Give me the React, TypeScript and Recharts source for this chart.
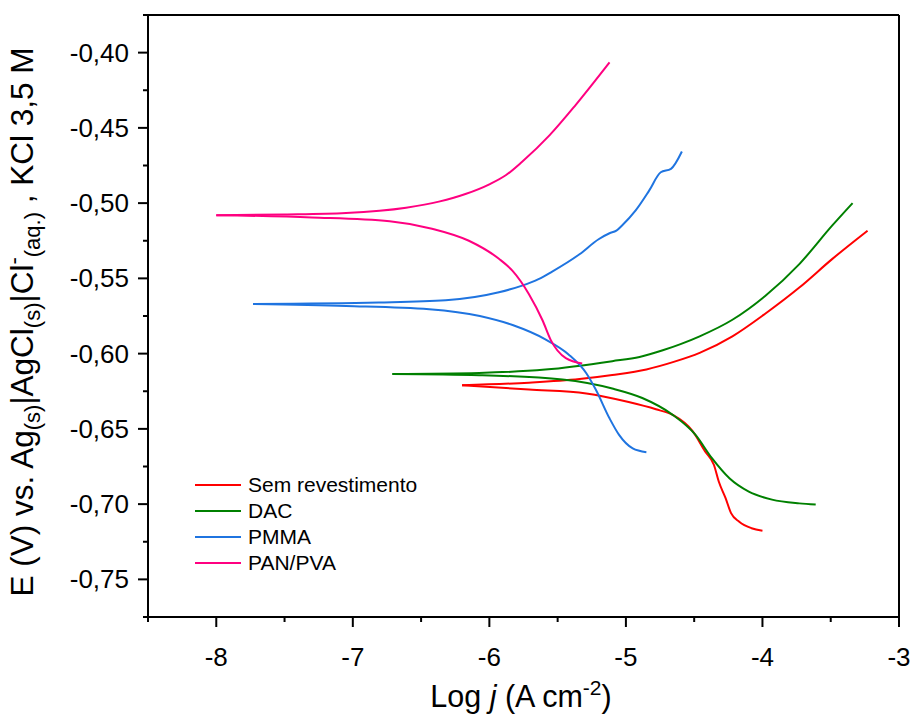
import React from 'react';
import { LineChart, Line, XAxis, YAxis, ReferenceLine, Legend, Label } from 'recharts';

const FONT = '"Liberation Sans", Arial, Helvetica, sans-serif';

const RED = '#ff0000';
const GREEN = '#008000';
const BLUE = '#1f74e0';
const PINK = '#ff0080';

const seriesNames = ['Sem revestimento', 'DAC', 'PMMA', 'PAN/PVA'];
const seriesColors = [RED, GREEN, BLUE, PINK];

const xMajorTicks = [-8, -7, -6, -5, -4, -3];
const xAllTicks = [-8.5, -8, -7.5, -7, -6.5, -6, -5.5, -5, -4.5, -4, -3.5, -3];
const yMajorTicks = [-0.75, -0.7, -0.65, -0.6, -0.55, -0.5, -0.45, -0.4];
const yAllTicks = [
  -0.775, -0.75, -0.725, -0.7, -0.675, -0.65, -0.625, -0.6, -0.575, -0.55,
  -0.525, -0.5, -0.475, -0.45, -0.425, -0.4, -0.375,
];

// Sem revestimento (red)
const semAnodic = [
  { x: -6.2, y: -0.621 }, { x: -5.71, y: -0.6193 }, { x: -5.34, y: -0.6169 },
  { x: -5.1, y: -0.6142 }, { x: -4.85, y: -0.6105 }, { x: -4.65, y: -0.6055 },
  { x: -4.46, y: -0.5995 }, { x: -4.22, y: -0.5885 }, { x: -3.98, y: -0.5735 },
  { x: -3.73, y: -0.5561 }, { x: -3.49, y: -0.5372 }, { x: -3.23, y: -0.5183 },
];
const semCathodic = [
  { x: -6.2, y: -0.621 }, { x: -5.71, y: -0.6239 }, { x: -5.29, y: -0.6265 },
  { x: -4.98, y: -0.6322 }, { x: -4.78, y: -0.637 }, { x: -4.66, y: -0.6406 },
  { x: -4.51, y: -0.6517 }, { x: -4.42, y: -0.665 }, { x: -4.355, y: -0.674 },
  { x: -4.32, y: -0.685 }, { x: -4.27, y: -0.696 }, { x: -4.23, y: -0.706 },
  { x: -4.17, y: -0.7117 }, { x: -4.08, y: -0.716 }, { x: -4.0, y: -0.7177 },
];

// DAC (green)
const dacAnodic = [
  { x: -6.71, y: -0.6135 }, { x: -6.075, y: -0.6128 }, { x: -5.59, y: -0.6106 },
  { x: -5.1, y: -0.605 }, { x: -4.9, y: -0.6022 }, { x: -4.73, y: -0.5978 },
  { x: -4.6, y: -0.5937 }, { x: -4.46, y: -0.5885 }, { x: -4.22, y: -0.5775 },
  { x: -3.98, y: -0.5617 }, { x: -3.73, y: -0.5405 }, { x: -3.49, y: -0.515 },
  { x: -3.34, y: -0.5 },
];
const dacCathodic = [
  { x: -6.71, y: -0.6135 }, { x: -6.075, y: -0.6143 }, { x: -5.465, y: -0.6172 },
  { x: -5.1, y: -0.6232 }, { x: -4.88, y: -0.6295 }, { x: -4.66, y: -0.6405 },
  { x: -4.49, y: -0.654 }, { x: -4.37, y: -0.6695 }, { x: -4.24, y: -0.683 },
  { x: -4.1, y: -0.6917 }, { x: -3.93, y: -0.697 }, { x: -3.73, y: -0.6995 },
  { x: -3.61, y: -0.7003 },
];

// PMMA (blue)
const pmmaAnodic = [
  { x: -7.73, y: -0.567 }, { x: -6.81, y: -0.566 }, { x: -6.32, y: -0.5645 },
  { x: -5.93, y: -0.5592 }, { x: -5.76, y: -0.5548 }, { x: -5.64, y: -0.5505 },
  { x: -5.54, y: -0.5455 }, { x: -5.34, y: -0.534 }, { x: -5.2, y: -0.524 },
  { x: -5.12, y: -0.52 }, { x: -5.07, y: -0.5183 }, { x: -5.03, y: -0.515 },
  { x: -4.93, y: -0.505 }, { x: -4.83, y: -0.4917 }, { x: -4.745, y: -0.4795 },
  { x: -4.67, y: -0.4772 }, { x: -4.59, y: -0.4657 },
];
const pmmaCathodic = [
  { x: -7.73, y: -0.567 }, { x: -7.05, y: -0.5683 }, { x: -6.44, y: -0.5705 },
  { x: -6.07, y: -0.575 }, { x: -5.83, y: -0.581 }, { x: -5.59, y: -0.5905 },
  { x: -5.42, y: -0.6005 }, { x: -5.29, y: -0.613 }, { x: -5.22, y: -0.624 },
  { x: -5.12, y: -0.643 }, { x: -5.05, y: -0.654 }, { x: -4.95, y: -0.663 },
  { x: -4.85, y: -0.6655 },
];

// PAN/PVA (pink)
const panAnodic = [
  { x: -8.0, y: -0.508 }, { x: -7.5, y: -0.5075 }, { x: -7.05, y: -0.5065 },
  { x: -6.61, y: -0.503 }, { x: -6.37, y: -0.499 }, { x: -6.17, y: -0.4938 },
  { x: -6.0, y: -0.4875 }, { x: -5.88, y: -0.4815 }, { x: -5.76, y: -0.4725 },
  { x: -5.56, y: -0.455 }, { x: -5.37, y: -0.435 }, { x: -5.12, y: -0.4065 },
];
const panCathodic = [
  { x: -8.0, y: -0.508 }, { x: -7.3, y: -0.5095 }, { x: -6.73, y: -0.512 },
  { x: -6.42, y: -0.517 }, { x: -6.15, y: -0.525 }, { x: -5.93, y: -0.537 },
  { x: -5.83, y: -0.545 }, { x: -5.71, y: -0.5605 }, { x: -5.61, y: -0.578 },
  { x: -5.55, y: -0.591 }, { x: -5.44, y: -0.603 }, { x: -5.32, y: -0.6065 },
];

const branches = [
  { data: semAnodic, color: RED }, { data: semCathodic, color: RED },
  { data: dacAnodic, color: GREEN }, { data: dacCathodic, color: GREEN },
  { data: pmmaAnodic, color: BLUE }, { data: pmmaCathodic, color: BLUE },
  { data: panAnodic, color: PINK }, { data: panCathodic, color: PINK },
];

const isIn = (arr: number[], v: number) => arr.some((t) => Math.abs(t - v) < 1e-6);

const XTick = (props: any) => {
  const { x, y, payload } = props;
  const v = payload.value;
  const major = isIn(xMajorTicks, v);
  return (
    <g>
      <line x1={x} x2={x} y1={y} y2={y + (major ? 10 : 5)} stroke="#000" strokeWidth={2} />
      {major && (
        <text x={x} y={y + 49} textAnchor="middle" fontSize={26} fontFamily={FONT} fill="#000">
          {String(v)}
        </text>
      )}
    </g>
  );
};

const YTick = (props: any) => {
  const { x, y, payload } = props;
  const v = payload.value;
  const major = isIn(yMajorTicks, v);
  return (
    <g>
      <line x1={x - (major ? 10 : 5)} x2={x} y1={y} y2={y} stroke="#000" strokeWidth={2} />
      {major && (
        <text x={x - 19} y={y + 9} textAnchor="end" fontSize={26} fontFamily={FONT} fill="#000">
          {v.toFixed(2).replace('.', ',')}
        </text>
      )}
    </g>
  );
};

const XTitle = () => (
  <text x={521} y={707} textAnchor="middle" fontSize={30.5} fontFamily={FONT} fill="#000">
    {'Log '}
    <tspan fontStyle="italic">j</tspan>
    {' (A cm'}
    <tspan dy={-12} fontSize={21}>-2</tspan>
    <tspan dy={12}>)</tspan>
  </text>
);

const YTitle = () => (
  <text
    x={33}
    y={322}
    transform="rotate(-90 33 322)"
    textAnchor="middle"
    fontSize={31.5}
    fontFamily={FONT}
    fill="#000"
  >
    {'E (V) vs. Ag'}
    <tspan dy={7} fontSize={22}>(s)</tspan>
    <tspan dy={-7}>|AgCl</tspan>
    <tspan dy={7} fontSize={22}>(s)</tspan>
    <tspan dy={-7}>|Cl</tspan>
    <tspan dy={-12} fontSize={22}>-</tspan>
    <tspan dy={19} fontSize={22}>(aq.)</tspan>
    <tspan dy={-7}>{' , KCl 3,5 M'}</tspan>
  </text>
);

const LegendContent = () => (
  <div style={{ fontFamily: FONT }}>
    {seriesNames.map((name, i) => (
      <div key={name} style={{ display: 'flex', alignItems: 'center', height: 26 }}>
        <svg width={46} height={4} style={{ display: 'block' }}>
          <line x1={0} x2={46} y1={2} y2={2} stroke={seriesColors[i]} strokeWidth={2.2} />
        </svg>
        <span style={{ marginLeft: 7, fontSize: 21, lineHeight: '26px', color: '#000', whiteSpace: 'nowrap' }}>
          {name}
        </span>
      </div>
    ))}
  </div>
);

export default function App() {
  return (
    <div style={{ position: 'absolute', left: 0, top: 0, background: '#fff' }}>
      <LineChart width={912} height={715} margin={{ top: 15, right: 13, left: 0, bottom: 0 }}>
        <XAxis
          type="number"
          dataKey="x"
          domain={[-8.5, -3]}
          ticks={xAllTicks}
          interval={0}
          allowDataOverflow
          height={98}
          tickLine={false}
          tickSize={0}
          tickMargin={0}
          tick={<XTick />}
          axisLine={{ stroke: '#000', strokeWidth: 2 }}
        >
          <Label content={<XTitle />} />
        </XAxis>
        <YAxis
          type="number"
          dataKey="y"
          domain={[-0.775, -0.375]}
          ticks={yAllTicks}
          interval={0}
          allowDataOverflow
          width={148}
          tickLine={false}
          tickSize={0}
          tickMargin={0}
          tick={<YTick />}
          axisLine={{ stroke: '#000', strokeWidth: 2 }}
        >
          <Label content={<YTitle />} />
        </YAxis>
        <ReferenceLine y={-0.375} stroke="#000" strokeWidth={2} />
        <ReferenceLine x={-3} stroke="#000" strokeWidth={2} />
        {branches.map((b, i) => (
          <Line
            key={i}
            data={b.data}
            dataKey="y"
            type="monotone"
            stroke={b.color}
            strokeWidth={2}
            dot={false}
            activeDot={false}
            legendType="none"
            isAnimationActive={false}
          />
        ))}
        <Legend
          layout="vertical"
          align="center"
          verticalAlign="middle"
          content={<LegendContent />}
          wrapperStyle={{ position: 'absolute', left: 195, top: 472, width: 260, height: 'auto', bottom: 'auto' }}
        />
      </LineChart>
    </div>
  );
}
